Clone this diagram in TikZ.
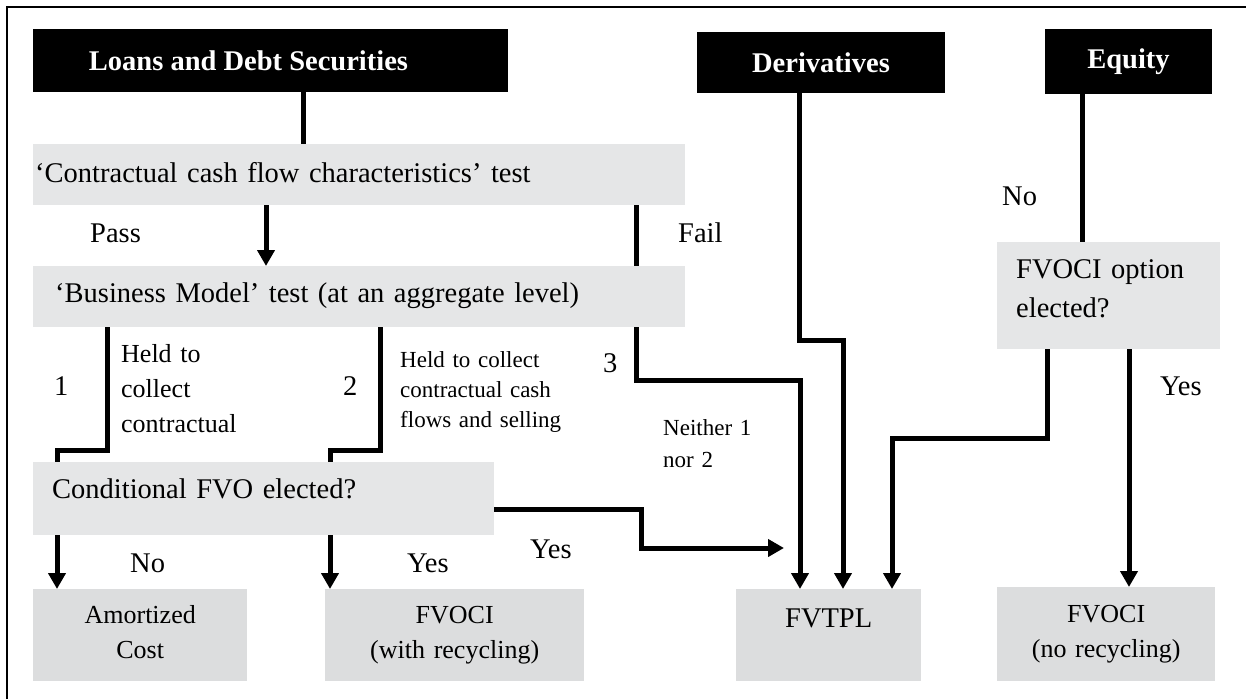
\documentclass[tikz,border=0pt]{standalone}
\usepackage{fontspec}
\setmainfont{Liberation Serif}
\usepackage{tikz}
\usetikzlibrary{arrows.meta}
\definecolor{testgray}{RGB}{229,230,231}
\definecolor{outgray}{RGB}{220,221,222}
\newcommand{\bigfont}{\fontsize{28.5pt}{34pt}\selectfont}
\newcommand{\midfont}{\fontsize{26pt}{35pt}\selectfont}
\newcommand{\smallfont}{\fontsize{23pt}{30pt}\selectfont}
\tikzstyle{head}=[fill=black,text=white,font=\bfseries\bigfont,inner sep=0pt]
\tikzstyle{test}=[fill=testgray,font=\bigfont,anchor=north west,inner ysep=0pt,align=left]
\tikzstyle{outcome}=[fill=outgray,font=\midfont,anchor=north west,inner sep=0pt,align=center]
\tikzstyle{lbl}=[font=\bigfont,anchor=base west,inner sep=0pt]
\tikzstyle{wire}=[line width=5pt]
\tikzstyle{flow}=[line width=5pt,-{Triangle[length=16pt,width=17pt]}]

\begin{document}
\begin{tikzpicture}[x=1pt,y=-1pt]
\useasboundingbox (0,0) rectangle (1246,699);
\draw[line width=1.3pt] (7,699) -- (7,7) -- (1246,7);

% asset classes
\node[head,minimum width=475pt,minimum height=63pt] (LDS) at (270.5,60.5) {Loans and Debt Securities\hspace*{44pt}};
\node[head,minimum width=248pt,minimum height=61pt] (DER) at (821,62.5) {Derivatives};
\node[head,minimum width=167pt,minimum height=65pt] (EQ) at (1128.5,61.5) {Equity};

% tests
\node[test,inner xsep=2pt,text width=648pt,text height=38pt,text depth=23pt] (CCF) at (33,144) {‘Contractual cash flow characteristics’ test};
\node[test,inner xsep=22pt,text width=608pt,text height=36pt,text depth=25pt] (BM) at (33,266) {‘Business Model’ test (at an aggregate level)};
\node[test,inner xsep=19pt,text width=423pt,text height=36pt,text depth=37pt] (CFVO) at (33,462) {Conditional FVO elected?};
\node[test,inner xsep=19pt,text width=185pt,text height=36pt,text depth=71pt,font=\fontsize{28.5pt}{39pt}\selectfont] (OPT) at (997,242) {FVOCI option\\elected?};

% outcomes
\node[outcome,text width=214pt,text height=34pt,text depth=58pt] (AC) at (33,589) {Amortized\\Cost};
\node[outcome,text width=259pt,text height=34pt,text depth=58pt] (FVOCIr) at (325,589) {FVOCI\\(with recycling)};
\node[outcome,text width=185pt,text height=38pt,text depth=54pt,font=\bigfont] (FVTPL) at (736,589) {FVTPL};
\node[outcome,text width=218pt,text height=35pt,text depth=59pt] (FVOCIn) at (997,587) {FVOCI\\(no recycling)};

% connectors
\draw[wire] (LDS.south -| 303,0) -- (CCF.north -| 303,0);
\draw[flow] (CCF.south -| 266,0) -- (BM.north -| 266,0);
\draw[wire] (CCF.south -| 636,0) -- (BM.north -| 636,0);
\draw[flow] (BM.south -| 636,0) -- (636,380) -- (800,380) -- (FVTPL.north -| 800,0);
\draw[flow] (DER.south -| 799,0) -- (799,340) -- (843,340) -- (FVTPL.north -| 843,0);
\draw[wire] (EQ.south -| 1082,0) -- (OPT.north -| 1082,0);
\draw[flow] (OPT.south -| 1047,0) -- (1047,438) -- (892,438) -- (FVTPL.north -| 892,0);
\draw[flow] (OPT.south -| 1129,0) -- (FVOCIn.north -| 1129,0);
\draw[wire] (BM.south -| 107,0) -- (107,450) -- (57,450) -- (CFVO.north -| 57,0);
\draw[wire] (BM.south -| 380,0) -- (380,450) -- (330,450) -- (CFVO.north -| 330,0);
\draw[flow] (CFVO.south -| 57,0) -- (AC.north -| 57,0);
\draw[flow] (CFVO.south -| 330,0) -- (FVOCIr.north -| 330,0);
\coordinate (yesend) at (784,548);
\draw[flow] (CFVO.east |- 0,509) -- (641,509) -- (641,548) -- (yesend);

% labels
\node[lbl] (pass) at (90,242) {Pass};
\node[lbl] (fail) at (678,242) {Fail};
\node[lbl] (eqno) at (1002,205) {No};
\node[lbl] (eqyes) at (1160,395) {Yes};
\node[lbl] (one) at (54,395) {1};
\node[lbl] (two) at (343,395) {2};
\node[lbl] (three) at (603,372) {3};
\node[lbl] (cfno) at (130,572) {No};
\node[lbl] (cfyes) at (407,572) {Yes};
\node[lbl] (toyes) at (530,558) {Yes};
\node[lbl,font=\midfont,text width=140pt,align=left] (held1) at (121,362) {Held to\\collect\\contractual};
\node[lbl,font=\smallfont,text width=180pt,align=left] (held2) at (400,367) {Held to collect\\contractual cash\\flows and selling};
\node[lbl,font=\fontsize{23pt}{32pt}\selectfont,text width=110pt,align=left] (neither) at (663,435) {Neither 1\\nor 2};
\end{tikzpicture}
\end{document}
